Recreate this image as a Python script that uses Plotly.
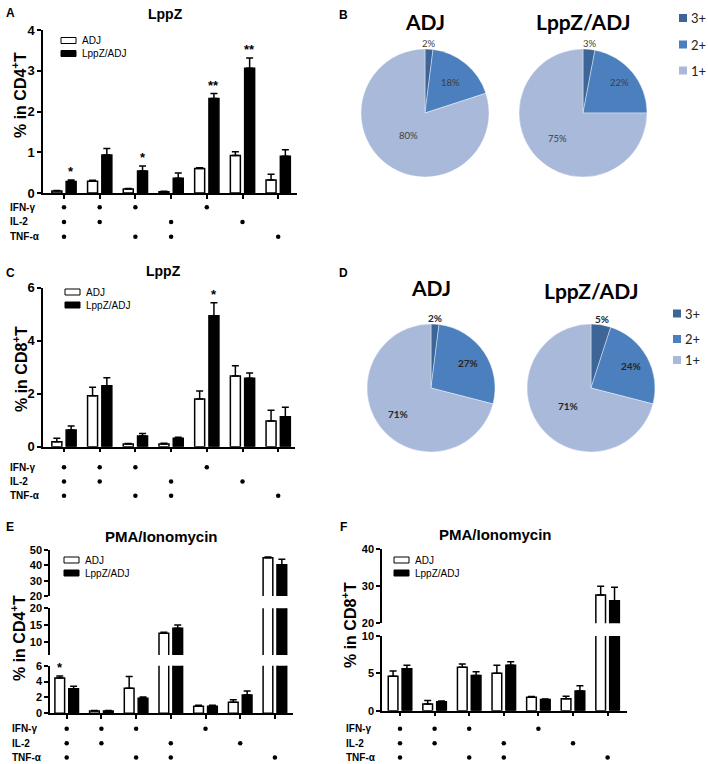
import math
import plotly.graph_objects as go

W, H = 708, 764


def X(px):
    return px / W


def Y(py):
    return 1 - py / H


# ---------------- data ----------------
groups = [0, 1, 2, 3, 4, 5, 6]
cytokines = ["IFN-γ", "IL-2", "TNF-α"]
ifn_g = [1, 1, 1, 0, 1, 0, 0]
il_2 = [1, 1, 0, 1, 0, 1, 0]
tnf_a = [1, 0, 1, 1, 0, 0, 1]

# A: LppZ, % in CD4+T
a_adj = [0.05, 0.29, 0.10, 0.03, 0.60, 0.92, 0.32]
a_adj_err = [0.01, 0.02, 0.01, 0.01, 0.02, 0.09, 0.14]
a_lppz = [0.28, 0.93, 0.54, 0.36, 2.32, 3.06, 0.90]
a_lppz_err = [0.04, 0.16, 0.12, 0.13, 0.12, 0.25, 0.16]
a_stars = ["*", "", "*", "", "**", "**", ""]

# C: LppZ, % in CD8+T
c_adj = [0.19, 1.92, 0.10, 0.10, 1.80, 2.67, 0.97]
c_adj_err = [0.13, 0.32, 0.02, 0.03, 0.30, 0.38, 0.41]
c_lppz = [0.63, 2.30, 0.40, 0.32, 4.94, 2.58, 1.13]
c_lppz_err = [0.15, 0.30, 0.10, 0.04, 0.49, 0.20, 0.36]
c_stars = ["", "", "", "", "*", "", ""]

# E: PMA/Ionomycin, % in CD4+T
e_adj = [4.45, 0.30, 3.15, 12.5, 0.90, 1.40, 45.0]
e_adj_err = [0.25, 0.05, 1.50, 0.30, 0.10, 0.30, 0.50]
e_lppz = [3.10, 0.30, 1.90, 14.0, 0.90, 2.30, 40.3]
e_lppz_err = [0.30, 0.05, 0.15, 1.00, 0.10, 0.50, 3.70]
e_stars_adj = ["*", "", "", "", "", "", ""]

# F: PMA/Ionomycin, % in CD8+T
f_adj = [4.6, 0.9, 5.8, 5.0, 1.8, 1.6, 27.6]
f_adj_err = [0.7, 0.45, 0.45, 1.1, 0.1, 0.35, 2.4]
f_lppz = [5.6, 1.2, 4.7, 6.1, 1.5, 2.65, 26.1]
f_lppz_err = [0.5, 0.1, 0.5, 0.45, 0.05, 0.7, 3.6]

# pies
pie_labels = ["3+", "2+", "1+"]
b_adj = [2, 18, 80]
b_lppz = [3, 22, 75]
d_adj = [2, 27, 71]
d_lppz = [5, 24, 71]
pie_colors = ["#3D6597", "#4B7FBD", "#A8B9D9"]

# ---------------- style ----------------
ARIAL = "Liberation Sans, Arial, sans-serif"
LATO = "Lato, Open Sans, sans-serif"
BAR_W = 0.28
OFF_ADJ = -0.34
OFF_LPPZ = 0.06

fig = go.Figure()
annotations = []
shapes = []


def bars(xa, ya, adj, adj_err, lppz, lppz_err):
    for vals, errs, fill, off in [(adj, adj_err, "white", OFF_ADJ),
                                  (lppz, lppz_err, "black", OFF_LPPZ)]:
        fig.add_trace(go.Bar(
            x=groups, y=vals, xaxis=xa, yaxis=ya, width=BAR_W, offset=off,
            marker=dict(color=fill, line=dict(color="black", width=1.5)),
            error_y=dict(type="data", symmetric=False, array=errs,
                         arrayminus=[0] * len(errs), color="black",
                         thickness=1.5, width=3.5),
            showlegend=False, hoverinfo="skip"))


def stars(xa, ya, vals, errs, marks, off):
    for g, v, e, m in zip(groups, vals, errs, marks):
        if m:
            annotations.append(dict(
                x=g + off + BAR_W / 2, y=v + e, xref=xa, yref=ya, text=m,
                showarrow=False, yanchor="bottom", yshift=-1,
                font=dict(family=ARIAL, size=13, color="black", weight="bold")))


def dots(xa, ya, label_x):
    xs, ys = [], []
    for row, flags in zip([2, 1, 0], [ifn_g, il_2, tnf_a]):
        for g, f in zip(groups, flags):
            if f:
                xs.append(g)
                ys.append(row)
    fig.add_trace(go.Scatter(x=xs, y=ys, xaxis=xa, yaxis=ya, mode="markers",
                             marker=dict(color="black", size=4.5),
                             cliponaxis=False, showlegend=False,
                             hoverinfo="skip"))
    for row, name in zip([2, 1, 0], cytokines):
        annotations.append(dict(
            x=X(label_x), xref="paper", y=row, yref=ya, text=name,
            showarrow=False, xanchor="left",
            font=dict(family=ARIAL, size=10, color="black", weight="bold")))


def bar_legend(x0, y0):
    shapes.append(dict(type="rect", xref="paper", yref="paper",
                       x0=X(x0), x1=X(x0 + 15), y0=Y(y0), y1=Y(y0 + 6),
                       fillcolor="white", line=dict(color="black", width=1)))
    shapes.append(dict(type="rect", xref="paper", yref="paper",
                       x0=X(x0), x1=X(x0 + 15), y0=Y(y0 + 13), y1=Y(y0 + 19),
                       fillcolor="black", line=dict(color="black", width=1)))
    for dy, t in [(3, "ADJ"), (16, "LppZ/ADJ")]:
        annotations.append(dict(x=X(x0 + 19), y=Y(y0 + dy), xref="paper",
                                yref="paper", text=t, showarrow=False,
                                xanchor="left", yanchor="middle",
                                font=dict(family=ARIAL, size=10, color="black")))


def text(px, py, t, size, bold=True, family=ARIAL, angle=0, xanchor="center",
         color="black"):
    annotations.append(dict(x=X(px), y=Y(py), xref="paper", yref="paper",
                            text=t, showarrow=False, xanchor=xanchor,
                            yanchor="middle", textangle=angle,
                            font=dict(family=family, size=size, color=color,
                                      weight="bold" if bold else "normal")))


def pie(cx, cy, r, vals, title, title_y, factors, bold_labels):
    fig.add_trace(go.Pie(
        values=vals, labels=pie_labels, sort=False, direction="clockwise",
        rotation=0, textinfo="none", showlegend=False, hoverinfo="skip",
        marker=dict(colors=pie_colors, line=dict(color="white", width=0.4)),
        domain=dict(x=[X(cx - r), X(cx + r)], y=[Y(cy + r), Y(cy - r)])))
    total = sum(vals)
    cum = 0
    for v, f in zip(vals, factors):
        mid = (cum + v / 2) / total * 2 * math.pi
        cum += v
        text(cx + r * f * math.sin(mid), cy - r * f * math.cos(mid), f"{v}%",
             10 if bold_labels else 9.5, bold=bold_labels, family=LATO,
             color="#262626" if bold_labels else "#404040")
    text(cx, title_y, title, 21, bold=True, family=LATO, color="black")


def pie_legend(x0, ys):
    for lab, col, yy in zip(pie_labels, pie_colors, ys):
        shapes.append(dict(type="rect", xref="paper", yref="paper",
                           x0=X(x0), x1=X(x0 + 8), y0=Y(yy + 4), y1=Y(yy - 4),
                           fillcolor=col, line=dict(width=0)))
        text(x0 + 10, yy, lab, 13, bold=False, family=LATO, xanchor="left",
             color="#222222")


# ---------------- panels ----------------
bars("x", "y", a_adj, a_adj_err, a_lppz, a_lppz_err)
stars("x", "y", a_lppz, a_lppz_err, a_stars, OFF_LPPZ)
dots("x", "y2", 8)

bars("x2", "y3", c_adj, c_adj_err, c_lppz, c_lppz_err)
stars("x2", "y3", c_lppz, c_lppz_err, c_stars, OFF_LPPZ)
dots("x2", "y4", 8)

for ya in ["y5", "y6", "y7"]:
    bars("x3", ya, e_adj, e_adj_err, e_lppz, e_lppz_err)
stars("x3", "y7", e_adj, e_adj_err, e_stars_adj, OFF_ADJ)
dots("x3", "y8", 10)

for ya in ["y9", "y10"]:
    bars("x4", ya, f_adj, f_adj_err, f_lppz, f_lppz_err)
dots("x4", "y11", 344)

pie(425, 113, 64, b_adj, "ADJ", 22, [1.09, 0.62, 0.44], False)
pie(583, 113, 64, b_lppz, "LppZ/ADJ", 22, [1.09, 0.74, 0.57], False)
pie(431, 388, 64, d_adj, "ADJ", 287, [1.09, 0.70, 0.66], True)
pie(591, 388, 64, d_lppz, "LppZ/ADJ", 290, [1.09, 0.72, 0.45], True)
pie_legend(679, [18, 44.5, 70.5])
pie_legend(673, [313.5, 339, 360])

bar_legend(61, 37.5)
bar_legend(65, 289)
bar_legend(64, 557)
bar_legend(394, 557)

# titles / letters
text(165, 14, "LppZ", 14)
text(163, 271, "LppZ", 14)
text(161, 536, "PMA/Ionomycin", 15)
text(495, 534, "PMA/Ionomycin", 15)
for lx, ly, L in [(10, 13, "A"), (343, 15, "B"), (10, 273, "C"),
                  (343, 273, "D"), (10, 527, "E"), (343, 527, "F")]:
    text(lx, ly, L, 12)
text(19, 95, "% in CD4<sup>+</sup>T", 16, angle=-90)
text(20, 369, "% in CD8<sup>+</sup>T", 16, angle=-90)
text(18, 638, "% in CD4<sup>+</sup>T", 16, angle=-90)
text(349, 625, "% in CD8<sup>+</sup>T", 16, angle=-90)

# ---------------- axes ----------------
tickfont = dict(family=ARIAL, size=13, color="black", weight="bold")
tickfont_small = dict(family=ARIAL, size=11, color="black", weight="bold")


def xax(x0, x1, first_tick, spacing, anchor):
    return dict(domain=[X(x0), X(x1)],
                range=[(x0 - first_tick) / spacing, (x1 - first_tick) / spacing],
                anchor=anchor, showline=True, linecolor="black", linewidth=1.5,
                ticks="outside", ticklen=4, tickwidth=1.5, tickcolor="black",
                tickvals=groups, showticklabels=False, showgrid=False,
                zeroline=False, fixedrange=True, automargin=False)


def yax(top, bottom, rng, tickvals, anchor, font=tickfont):
    return dict(domain=[Y(bottom), Y(top)], range=rng, anchor=anchor,
                showline=True, linecolor="black", linewidth=1.5,
                ticks="outside", ticklen=4, tickwidth=1.5, tickcolor="black",
                tickvals=tickvals, tickfont=font, showgrid=False,
                zeroline=False, fixedrange=True, automargin=False)


def hidden(top, bottom, rng, anchor):
    return dict(domain=[max(Y(bottom), 0), Y(top)], range=rng, anchor=anchor,
                visible=False, fixedrange=True, automargin=False)


fig.update_layout(
    template="none",
    width=W, height=H, autosize=False,
    margin=dict(l=0, r=0, t=0, b=0, pad=0, autoexpand=False),
    paper_bgcolor="white", plot_bgcolor="rgba(0,0,0,0)",
    barmode="overlay", showlegend=False,
    xaxis=xax(43, 297, 64, 35.7, "y"),
    yaxis=yax(30, 193, [0, 4], [0, 1, 2, 3, 4], "x"),
    yaxis2=hidden(200, 244, [-0.5, 2.5], "x"),
    xaxis2=xax(43, 295, 64, 35.7, "y3"),
    yaxis3=yax(287.7, 446.7, [0, 6], [0, 2, 4, 6], "x2"),
    yaxis4=hidden(460, 503, [-0.5, 2.5], "x2"),
    xaxis3=xax(50, 293, 66.7, 34.7, "y7"),
    yaxis5=yax(550, 596, [20, 50], [20, 30, 40, 50], "x3", tickfont_small),
    yaxis6=yax(608.3, 655, [6, 20], [10, 15, 20], "x3", tickfont_small),
    yaxis7=yax(665.7, 713.3, [0, 6], [0, 2, 4, 6], "x3", tickfont_small),
    yaxis8=hidden(721.7, 764, [-0.45, 2.5], "x3"),
    xaxis4=xax(382, 626.7, 400, 34.6, "y10"),
    yaxis9=yax(549, 623.3, [20, 40], [20, 30, 40], "x4", tickfont_small),
    yaxis10=yax(636, 710.7, [0, 10], [0, 5, 10], "x4", tickfont_small),
    yaxis11=hidden(721.7, 764, [-0.45, 2.5], "x4"),
    annotations=annotations, shapes=shapes,
)

fig.write_html(
    "out.html",
    config={"responsive": False, "displayModeBar": False},
    post_script="document.body.style.margin='0px';"
                "document.body.style.overflow='hidden';",
)
